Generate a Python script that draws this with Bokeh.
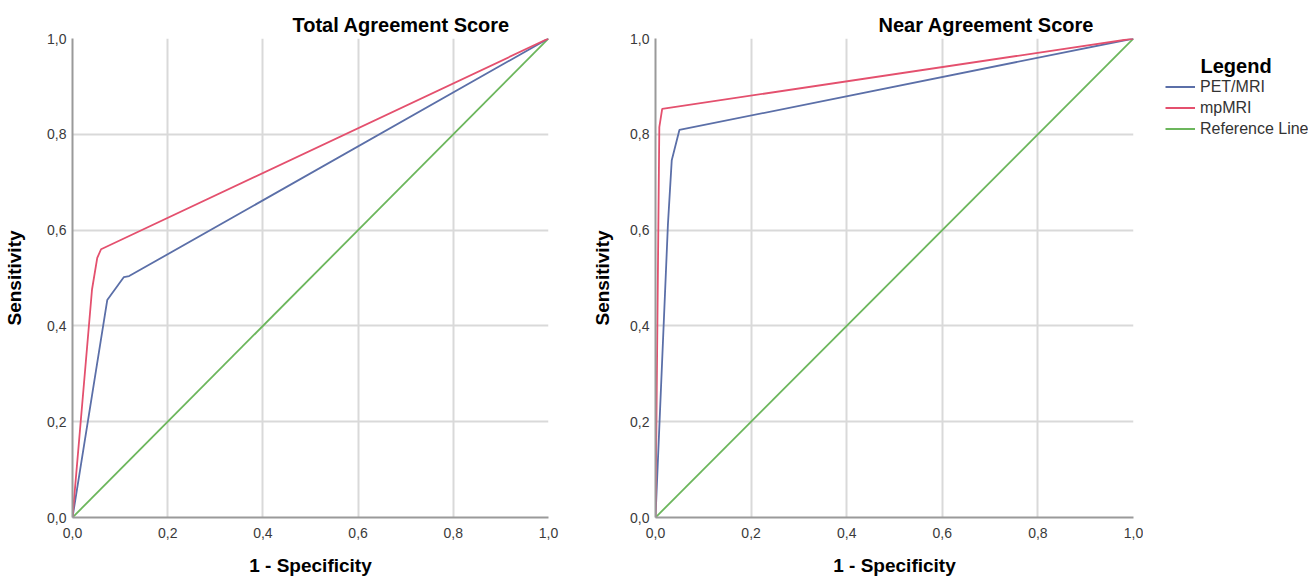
from bokeh.plotting import figure
from bokeh.layouts import row
from bokeh.models import FixedTicker, Legend, LegendItem, Label, Title
from bokeh.embed import file_html
from bokeh.resources import INLINE

# Data
total_pet_x = [0.0, 0.073, 0.108, 0.119, 1.0]
total_pet_y = [0.0, 0.454, 0.502, 0.504, 1.0]
total_mp_x = [0.0, 0.041, 0.052, 0.060, 1.0]
total_mp_y = [0.0, 0.476, 0.542, 0.560, 1.0]
near_pet_x = [0.0, 0.026, 0.034, 0.050, 1.0]
near_pet_y = [0.0, 0.612, 0.746, 0.809, 1.0]
near_mp_x = [0.0, 0.008, 0.014, 1.0]
near_mp_y = [0.0, 0.815, 0.853, 1.0]
ref_x = [0.0, 1.0]
ref_y = [0.0, 1.0]
ticks = [0.0, 0.2, 0.4, 0.6, 0.8, 1.0]
tick_labels = ["0,0", "0,2", "0,4", "0,6", "0,8", "1,0"]
titles = ["Total Agreement Score", "Near Agreement Score"]
series_names = ["PET/MRI", "mpMRI", "Reference Line"]

BLUE = "#5b6fa8"
RED = "#e4506e"
GREEN = "#6cb65c"
FONT = "Liberation Sans"
TOP = 38
FH = 479
H = 578


def make_fig(title, border_left, border_right, fw, title_offset, ylab_standoff):
    p = figure(frame_width=fw, frame_height=FH, x_range=(0, 1), y_range=(0, 1),
               output_backend="svg", toolbar_location=None,
               min_border_left=border_left, min_border_right=border_right,
               min_border_top=TOP, min_border_bottom=H - TOP - FH)
    p.title = Title(text=title, align="left", offset=title_offset,
                    text_font=FONT, text_font_size="20px", text_font_style="bold",
                    text_color="#000000", standoff=5)
    p.outline_line_color = None
    for ax in (p.xaxis, p.yaxis):
        ax.ticker = FixedTicker(ticks=ticks)
        ax.major_label_overrides = {t: l for t, l in zip(ticks, tick_labels)}
        ax.major_tick_line_color = None
        ax.minor_tick_line_color = None
        ax.major_tick_out = 0
        ax.major_tick_in = 0
        ax.minor_tick_out = 0
        ax.axis_line_color = "#9a9a9a"
        ax.axis_line_width = 2
        ax.major_label_text_font = FONT
        ax.major_label_text_font_size = "14px"
        ax.major_label_text_color = "#3a3a3a"
        ax.axis_label_text_font = FONT
        ax.axis_label_text_font_size = "19px"
        ax.axis_label_text_font_style = "bold"
        ax.axis_label_text_color = "#000000"
    p.xaxis.axis_label = "1 - Specificity"
    p.yaxis.axis_label = "Sensitivity"
    p.xaxis.major_label_standoff = 10
    p.yaxis.major_label_standoff = 6
    p.xaxis.axis_label_standoff = 14
    p.yaxis.axis_label_standoff = ylab_standoff
    p.grid.grid_line_color = "#d9d9d9"
    p.grid.grid_line_width = 2
    return p


p1 = make_fig(titles[0], 72, 41, 476, 220, 19)
p1.line(ref_x, ref_y, line_color=GREEN, line_width=1.8)
p1.line(total_pet_x, total_pet_y, line_color=BLUE, line_width=1.8)
p1.line(total_mp_x, total_mp_y, line_color=RED, line_width=1.8)

p2 = make_fig(titles[1], 66, 10, 478, 223, 14)
p2.line(ref_x, ref_y, line_color=GREEN, line_width=1.8)
p2.line(near_pet_x, near_pet_y, line_color=BLUE, line_width=1.8)
p2.line(near_mp_x, near_mp_y, line_color=RED, line_width=1.8)

# Legend panel (its frame is aligned with the plots' frames); its proxy lines
# lie outside its visible range, so only their legend glyphs show.
p3 = figure(width=165, height=H, x_range=(5, 6), y_range=(5, 6),
            output_backend="svg", toolbar_location=None,
            x_axis_location=None, y_axis_location=None,
            min_border=0)
p3.outline_line_color = None
p3.grid.visible = False
lr_pet = p3.line(near_pet_x, near_pet_y, line_color=BLUE, line_width=2)
lr_mp = p3.line(near_mp_x, near_mp_y, line_color=RED, line_width=2)
lr_ref = p3.line(ref_x, ref_y, line_color=GREEN, line_width=2)
frame_bottom = TOP + FH
legend = Legend(items=[LegendItem(label=series_names[0], renderers=[lr_pet]),
                       LegendItem(label=series_names[1], renderers=[lr_mp]),
                       LegendItem(label=series_names[2], renderers=[lr_ref])],
                location=(22, frame_bottom - 139), border_line_color=None,
                background_fill_alpha=0,
                label_text_font=FONT, label_text_font_size="16px", label_text_color="#333333",
                glyph_width=30, glyph_height=21, label_height=21, spacing=0,
                label_standoff=5, padding=0, margin=0)
p3.add_layout(legend, "center")
p3.add_layout(Label(x=57, y=frame_bottom - 65, x_units="screen", y_units="screen",
                    text="Legend", text_baseline="alphabetic",
                    text_font=FONT, text_font_size="20px", text_font_style="bold",
                    text_color="#000000"))

layout = row(p1, p2, p3, spacing=0)
open("out.html", "w").write(file_html(layout, INLINE))
